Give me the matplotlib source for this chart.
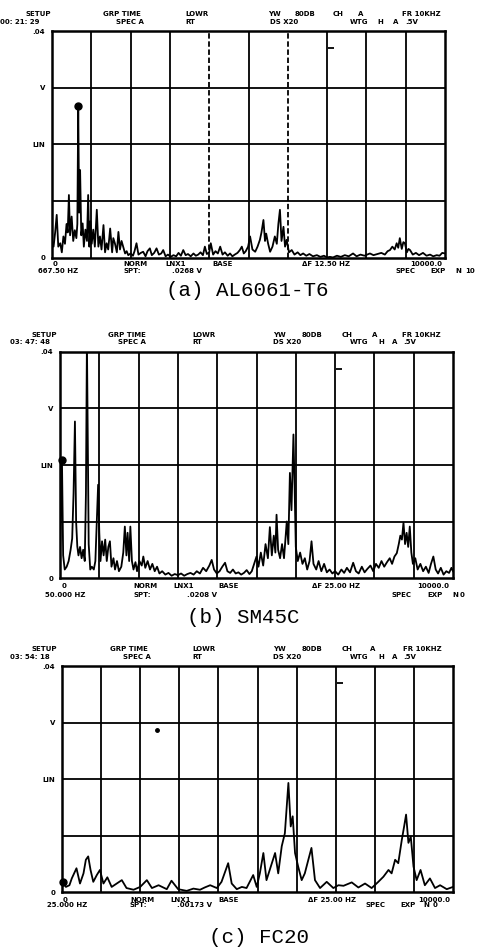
import matplotlib
matplotlib.use('Agg')
import matplotlib.pyplot as plt
import numpy as np

# spectrum traces: (frequency Hz, amplitude V)
SPEC_A = [
    (0, .003), (40, .002), (80, .0045), (120, .0076), (160, .002), (210, .0026), (250, .001),
    (290, .0038), (330, .0025), (370, .006), (400, .0045), (430, .0111), (460, .004), (500, .0073),
    (540, .003), (580, .0049), (620, .0035), (645, .006), (667.5, .0268), (690, .008), (715, .0155),
    (745, .004), (780, .0061), (810, .002), (850, .005), (890, .003), (920, .0111), (950, .002),
    (980, .0065), (1010, .0025), (1050, .005), (1090, .002), (1140, .0085), (1180, .002),
    (1220, .0038), (1260, .0015), (1310, .0058), (1350, .001), (1390, .0026), (1430, .0015),
    (1480, .0052), (1530, .001), (1560, .0035), (1600, .0026), (1650, .001), (1690, .0046),
    (1730, .0015), (1770, .003), (1810, .002), (1860, .0008), (1900, .0012), (1940, .0005),
    (2000, .0008), (2060, .0004), (2100, .0012), (2150, .0026), (2200, .0006), (2260, .0009),
    (2320, .0011), (2380, .0003), (2430, .0012), (2490, .0017), (2540, .0005), (2600, .0009),
    (2660, .0017), (2720, .0006), (2780, .0008), (2830, .0014), (2890, .0003), (2950, .0006),
    (3020, .0002), (3090, .0005), (3160, .0003), (3220, .0009), (3280, .0004), (3340, .0014),
    (3400, .0005), (3460, .0007), (3530, .0003), (3600, .0008), (3660, .0004), (3720, .0006),
    (3780, .001), (3840, .0005), (3890, .002), (3940, .0007), (4000, .001), (4040, .0026),
    (4100, .0006), (4160, .0012), (4220, .0008), (4280, .002), (4340, .0006), (4400, .001),
    (4470, .0004), (4530, .0008), (4590, .0003), (4650, .0006), (4720, .0009), (4780, .0014),
    (4830, .002), (4880, .0008), (4930, .0012), (4990, .002), (5040, .0038), (5100, .0015),
    (5170, .0011), (5230, .002), (5290, .0032), (5330, .0045), (5380, .0067), (5420, .003),
    (5450, .0043), (5500, .0025), (5550, .0011), (5610, .002), (5670, .0038), (5720, .0025),
    (5760, .006), (5800, .0085), (5840, .003), (5890, .0055), (5930, .002), (5970, .0032),
    (6030, .001), (6100, .0014), (6170, .0006), (6250, .001), (6320, .0005), (6390, .0008),
    (6470, .0004), (6550, .0007), (6640, .0003), (6740, .0005), (6830, .0002), (6920, .0004),
    (7000, .0001), (7070, .0002), (7150, .0001), (7250, .0004), (7350, .0002), (7450, .0005),
    (7550, .0003), (7660, .0008), (7750, .0003), (7850, .0006), (7950, .0004), (8090, .0008),
    (8180, .0005), (8280, .0007), (8380, .0009), (8470, .0006), (8540, .0012), (8600, .0014),
    (8660, .002), (8720, .0015), (8770, .0026), (8810, .0018), (8850, .0035), (8900, .0016),
    (8940, .0028), (8980, .0026), (9030, .001), (9070, .0016), (9110, .0014), (9180, .0006),
    (9260, .0009), (9340, .0005), (9440, .0009), (9530, .0004), (9620, .0006), (9700, .0003),
    (9790, .0005), (9860, .0004), (9930, .0009), (10000, .0008),
]

SPEC_B = [
    (0, .004), (25, .012), (50, .0208), (80, .004), (120, .0015), (170, .002), (220, .003),
    (270, .005), (310, .007), (345, .015), (380, .0277), (410, .01), (440, .0056), (470, .004),
    (510, .0055), (550, .0035), (590, .005), (630, .003), (660, .015), (685, .042), (705, .026),
    (730, .006), (770, .0015), (810, .002), (860, .0015), (900, .003), (940, .011), (970, .0165),
    (1000, .008), (1030, .003), (1070, .0065), (1110, .004), (1150, .0068), (1190, .003),
    (1230, .0055), (1270, .0065), (1310, .002), (1360, .0035), (1400, .0015), (1450, .003),
    (1500, .0012), (1560, .002), (1610, .0045), (1650, .0091), (1690, .004), (1720, .008),
    (1760, .003), (1790, .0091), (1830, .003), (1870, .0015), (1920, .0028), (1960, .0012),
    (2020, .003), (2080, .0022), (2120, .0038), (2170, .0018), (2230, .003), (2290, .0015),
    (2350, .0025), (2410, .0012), (2470, .002), (2530, .0008), (2600, .0012), (2680, .0006),
    (2760, .0009), (2840, .0004), (2920, .0007), (3000, .0005), (3080, .0008), (3160, .0004),
    (3240, .0007), (3320, .0009), (3400, .0006), (3480, .0012), (3560, .0008), (3640, .0018),
    (3720, .0012), (3800, .0022), (3860, .0032), (3920, .0015), (3990, .0008), (4060, .0012),
    (4130, .002), (4200, .0027), (4260, .0012), (4330, .0009), (4400, .0015), (4470, .0008),
    (4540, .001), (4610, .0006), (4680, .0009), (4750, .0014), (4820, .0007), (4880, .0012),
    (4940, .0025), (5000, .0038), (5050, .002), (5110, .0045), (5170, .0022), (5230, .006),
    (5290, .0035), (5340, .009), (5390, .004), (5440, .0075), (5480, .0045), (5510, .0112),
    (5550, .005), (5600, .0035), (5650, .006), (5700, .0035), (5770, .01), (5810, .006),
    (5850, .0186), (5890, .012), (5940, .0254), (5970, .016), (6000, .0055), (6050, .003),
    (6110, .0045), (6170, .0025), (6230, .0035), (6290, .0015), (6350, .003), (6400, .0065),
    (6450, .0025), (6520, .0015), (6580, .003), (6650, .0012), (6720, .0025), (6790, .001),
    (6860, .0015), (6930, .0008), (7000, .0012), (7080, .0006), (7160, .0015), (7230, .0009),
    (7300, .0018), (7380, .001), (7460, .0027), (7530, .0012), (7600, .0008), (7680, .002),
    (7750, .001), (7820, .0016), (7900, .0022), (7970, .0012), (8040, .0025), (8110, .0018),
    (8180, .003), (8250, .002), (8320, .0028), (8390, .0035), (8450, .0025), (8510, .0038),
    (8570, .0044), (8620, .006), (8660, .0075), (8700, .0068), (8740, .0098), (8780, .006),
    (8820, .008), (8860, .0055), (8900, .0091), (8940, .0045), (8980, .0025), (9040, .0035),
    (9100, .0015), (9170, .0025), (9240, .0012), (9310, .002), (9380, .0009), (9440, .0025),
    (9500, .0038), (9560, .0015), (9620, .0008), (9690, .0018), (9760, .0006), (9830, .0012),
    (9900, .0009), (9960, .0018), (10000, .0012),
]

SPEC_C = [
    (0, .0007), (25, .00173), (100, .0009), (190, .0012), (250, .0024), (370, .0042),
    (460, .0015), (550, .0033), (610, .0057), (670, .0063), (730, .0039), (800, .0018),
    (890, .003), (970, .0039), (1060, .0015), (1160, .0026), (1270, .0009), (1400, .0015),
    (1530, .0021), (1650, .0007), (1830, .0004), (2000, .0009), (2170, .0021), (2300, .0007),
    (2470, .0012), (2680, .0005), (2800, .002), (2970, .0005), (3190, .0002), (3360, .0006),
    (3530, .0004), (3650, .0008), (3790, .0012), (3960, .0007), (4080, .0018), (4250, .0051),
    (4340, .0015), (4470, .0005), (4600, .0009), (4720, .0007), (4890, .003), (4980, .0009),
    (5060, .0033), (5150, .0069), (5230, .0021), (5340, .0045), (5450, .0069), (5530, .0033),
    (5620, .0081), (5700, .0104), (5790, .0193), (5850, .0116), (5900, .0134), (5960, .0069),
    (6040, .0045), (6130, .0021), (6210, .0033), (6300, .0057), (6380, .0078), (6470, .0021),
    (6600, .0007), (6770, .0018), (6940, .0007), (7070, .0012), (7200, .0011), (7410, .0017),
    (7580, .0008), (7750, .0015), (7920, .0007), (8090, .0018), (8220, .0027), (8350, .0039),
    (8430, .0033), (8520, .0057), (8600, .0051), (8690, .0092), (8750, .0116), (8800, .0137),
    (8860, .0087), (8920, .0098), (8990, .0045), (9070, .0021), (9170, .0039), (9280, .0012),
    (9410, .0024), (9540, .0007), (9670, .0012), (9840, .0005), (10000, .0009),
]

# cursor readouts printed in each footer
CURSOR_F = [667.5, 50.0, 25.0]
CURSOR_V = [0.0268, 0.0208, 0.00173]
REF_F, REF_V = 7100, 0.037        # small reference tick near the top of every screen
STRAY_F, STRAY_V = 2430, 0.0286   # stray dot on screen (c)

CAPTIONS = ['(a) AL6061-T6', '(b) SM45C', '(c) FC20']
TIMES = ['00: 21: 29', '03: 47: 48', '03: 54: 18']
DF_TXT = ['\u0394F 12.50 HZ', '\u0394F 25.00 HZ', '\u0394F 25.00 HZ']
CUR_TXT = ['667.50 HZ', '50.000 HZ', '25.000 HZ']
SPT_TXT = ['.0268 V', '.0208 V', '.00173 V']
AVG_N = ['10', '0', '0']
HDR1 = ['SETUP', 'GRP TIME', 'LOWR', 'YW', '80DB', 'CH', 'A', 'FR 10KHZ']
HDR2 = ['SPEC A', 'RT', 'DS X20', 'WTG', 'H', 'A', '.5V']

YTICKS = [0, 0.01, 0.02, 0.03, 0.04]
YLABELS = ['0', '', 'LIN', 'V', '.04']
XGRID = np.arange(0, 10001, 1000)

# layout, in pixels of the 487x947 page
W, H = 487, 947
BOX = [(52, 31, 445, 258), (60, 352, 453, 578), (62, 666, 453, 892)]
HDR1_X = [[25, 103, 185, 268, 295, 333, 358, 402],
          [32, 108, 192, 273, 302, 342, 372, 402],
          [32, 110, 192, 273, 302, 342, 370, 403]]
HDR2_X = [[0, 116, 185, 270, 350, 377, 393, 405],
          [10, 118, 192, 273, 350, 378, 392, 403],
          [10, 123, 192, 273, 350, 378, 392, 403]]
FTR1_X = [[53, 123, 165, 212, 302, 410],
          [62, 133, 173, 218, 312, 417],
          [63, 130, 170, 218, 308, 418]]
FTR2_X = [[38, 123, 172, 395, 430, 455, 465],
          [45, 133, 187, 392, 427, 452, 460],
          [47, 130, 177, 365, 400, 423, 433]]
FTR_DY = [(6, 12.5), (8, 16.5), (7.5, 13)]
CAP_XY = [(247, 290), (243, 617), (259, 937)]

LBL = dict(family='DejaVu Sans', fontweight='bold', fontsize=5, va='center', ha='left')


def put(fig, x, y, s, **kw):
    opts = dict(LBL)
    opts.update(kw)
    fig.text(x / W, 1 - y / H, s, **opts)


def main():
    fig = plt.figure(figsize=(W / 100, H / 100), dpi=100)
    specs = [SPEC_A, SPEC_B, SPEC_C]

    for i in range(3):
        L, T, R, B = BOX[i]
        ax = fig.add_axes([L / W, 1 - B / H, (R - L) / W, (B - T) / H])
        f, v = np.array(specs[i]).T

        # screen grid: 10 x 4 divisions
        for gx in XGRID[1:-1]:
            ls = (0, (3, 1.5)) if (i == 0 and gx in (4000, 6000)) else '-'
            ax.axvline(gx, color='black', lw=1.3, ls=ls, zorder=1)
        for gy in YTICKS[1:-1]:
            ax.axhline(gy, color='black', lw=1.3, zorder=1)

        ax.plot(f, v, color='black', lw=1.3, zorder=3)
        ax.plot(CURSOR_F[i], CURSOR_V[i], 'o', ms=5, color='black', clip_on=False, zorder=4)
        ax.plot(REF_F, REF_V, marker='_', ms=4, mew=1.3, color='black')
        if i == 2:
            ax.plot(STRAY_F, STRAY_V, 'o', ms=2.5, color='black')

        ax.set_xlim(0, 10000)
        ax.set_ylim(0, 0.04)
        ax.set_xticks([])
        ax.set_yticks(YTICKS)
        ax.set_yticklabels(YLABELS, fontsize=5, fontweight='bold')
        ax.tick_params(axis='y', length=0, pad=5)
        for sp in ax.spines.values():
            sp.set_linewidth(1.8)

        # analyzer header lines
        for s, x in zip(HDR1, HDR1_X[i]):
            put(fig, x, T - 17, s)
        for s, x in zip([TIMES[i]] + HDR2, HDR2_X[i]):
            put(fig, x, T - 9.5, s)
        # footer lines
        row1 = ['0', 'NORM', 'LNX1', 'BASE', DF_TXT[i], '10000.0']
        row2 = [CUR_TXT[i], 'SPT:', SPT_TXT[i], 'SPEC', 'EXP', 'N', AVG_N[i]]
        dy1, dy2 = FTR_DY[i]
        for s, x in zip(row1, FTR1_X[i]):
            put(fig, x, B + dy1, s)
        for s, x in zip(row2, FTR2_X[i]):
            put(fig, x, B + dy2, s)

        cx, cy = CAP_XY[i]
        put(fig, cx, cy, CAPTIONS[i], family='Liberation Mono', fontweight='normal',
            fontsize=15, ha='center')

    fig.savefig('out.png', dpi=100)
    plt.close(fig)


if __name__ == '__main__':
    main()
